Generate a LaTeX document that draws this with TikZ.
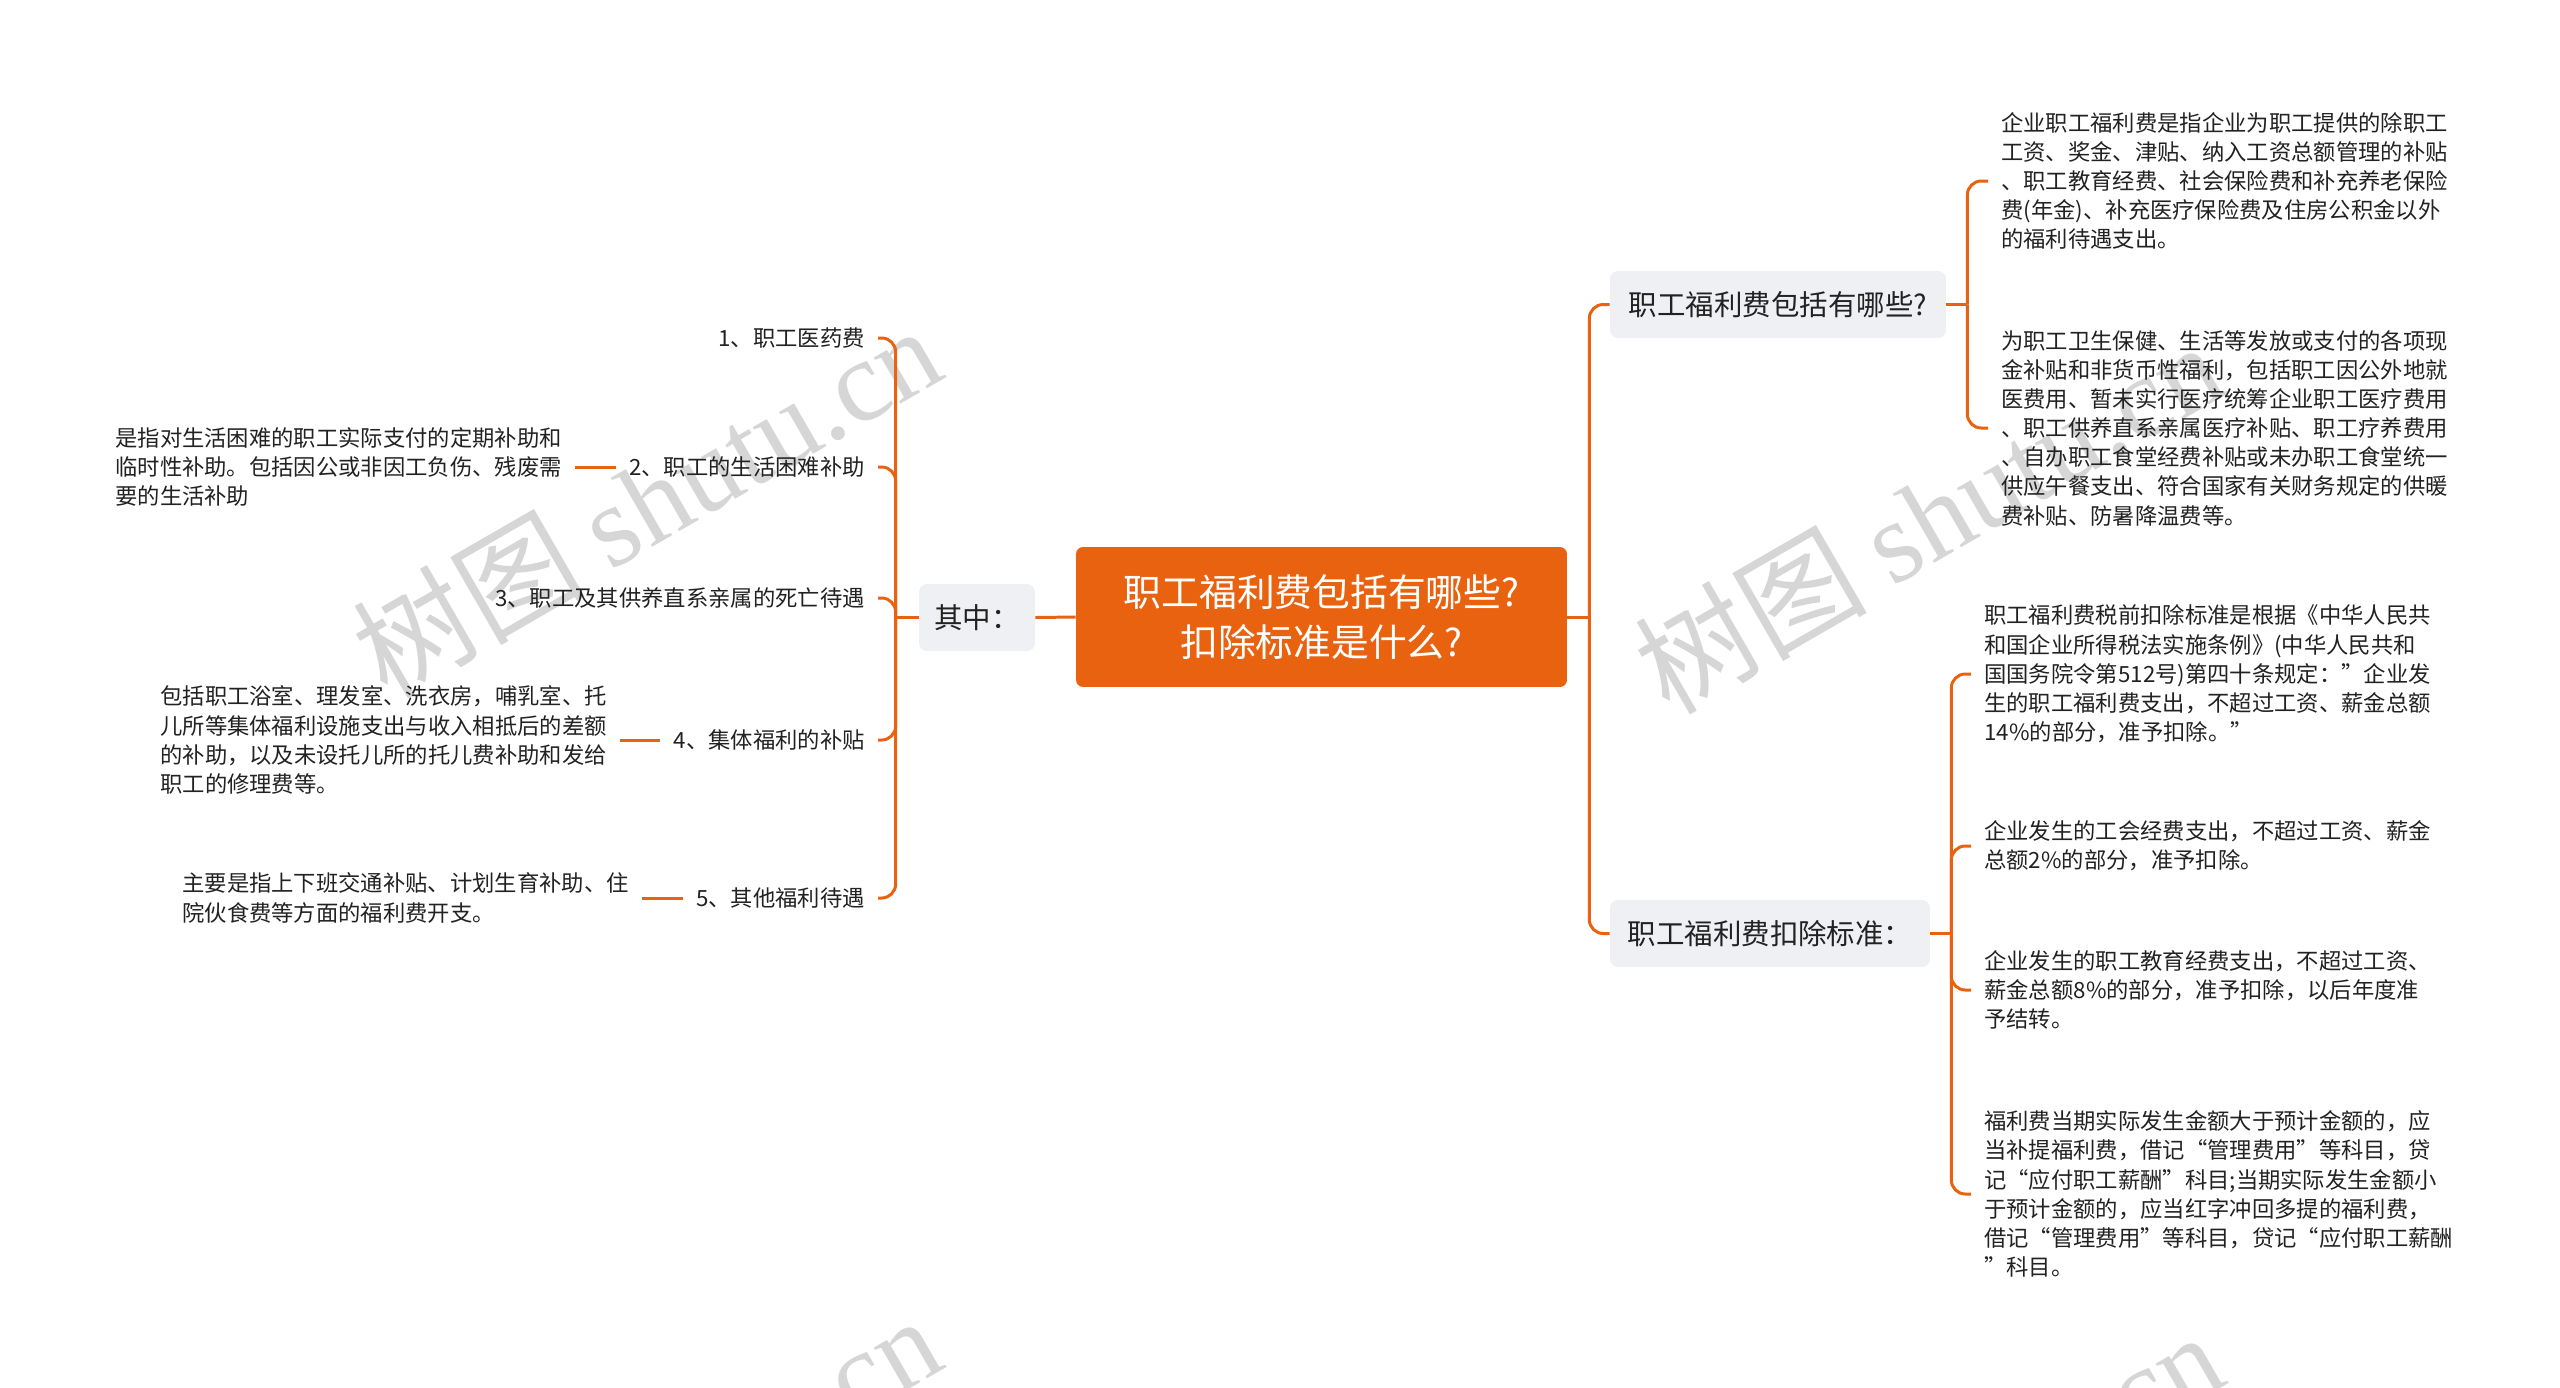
\documentclass[tikz,border=0pt]{standalone}
\usepackage{fontspec}
\setmainfont{Noto Sans CJK SC}
\newfontfamily\wmlatinfont{Liberation Serif}
\usetikzlibrary{positioning}
\definecolor{orng}{HTML}{E8620F}
\definecolor{graybg}{HTML}{EEF0F3}
\definecolor{txtc}{HTML}{222222}
\definecolor{wmc}{HTML}{D6D6D6}
\newcommand\ftS{\fontsize{12.7pt}{16.6pt}\selectfont}
\newcommand\ftM{\fontsize{16.2pt}{20pt}\selectfont}
\newcommand\ftL{\fontsize{21.5pt}{28.7pt}\selectfont}
\newcommand\ftW{\fontsize{66pt}{66pt}\selectfont}
\tikzset{
  conn/.style={draw=orng, line width=1.7pt, rounded corners=0.28cm},
  txtnode/.style={text=txtc, font=\ftS, inner xsep=0.26cm, inner ysep=0pt},
  descl/.style={txtnode, align=left},
  lblr/.style={txtnode, anchor=east},
  topicbox/.style={fill=graybg, rounded corners=0.16cm, text=txtc, font=\ftM, minimum height=1.34cm, inner xsep=0pt},
  rootbox/.style={fill=orng, rounded corners=0.14cm, text=white, font=\ftL, align=center, minimum width=9.82cm, minimum height=2.8cm},
  wmark/.style={text=wmc, font=\ftW, rotate=30}
}
\begin{document}
\begin{tikzpicture}[x=0.02cm,y=-0.02cm]
\fill[white] (0,0) rectangle (2560,1387);
\useasboundingbox (0,0) rectangle (2560,1387);
\begin{scope}
\clip (0,0) rectangle (2560,1387);
\node[wmark] (wm1) at (646,500) {树图 {\wmlatinfont shutu.cn}};
\node[wmark] (wm2) at (1928,516) {树图 {\wmlatinfont shutu.cn}};
\node[wmark] (wm3) at (646,1490) {树图 {\wmlatinfont shutu.cn}};
\node[wmark] (wm4) at (1928,1506) {树图 {\wmlatinfont shutu.cn}};
\end{scope}

% main nodes
\node[rootbox] (root) at (1321.5,617) {职工福利费包括有哪些?\\扣除标准是什么?};
\node[topicbox, minimum width=2.32cm] (qz) at (977,617.5) {其中：};
\node[topicbox, minimum width=6.72cm] (n1) at (1778,304.5) {职工福利费包括有哪些?};
\node[topicbox, minimum width=6.4cm] (n2) at (1770,933.5) {职工福利费扣除标准：};

% right texts
\node[descl, anchor=west] (t1) at (1988,181) {企业职工福利费是指企业为职工提供的除职工\\
工资、奖金、津贴、纳入工资总额管理的补贴\\
、职工教育经费、社会保险费和补充养老保险\\
费(年金)、补充医疗保险费及住房公积金以外\\
的福利待遇支出。};
\node[descl, anchor=west] (t2) at (1988,428) {为职工卫生保健、生活等发放或支付的各项现\\
金补贴和非货币性福利，包括职工因公外地就\\
医费用、暂未实行医疗统筹企业职工医疗费用\\
、职工供养直系亲属医疗补贴、职工疗养费用\\
、自办职工食堂经费补贴或未办职工食堂统一\\
供应午餐支出、符合国家有关财务规定的供暖\\
费补贴、防暑降温费等。};
\node[descl, anchor=west] (ra) at (1971,674) {职工福利费税前扣除标准是根据《中华人民共\\
和国企业所得税法实施条例》(中华人民共和\\
国国务院令第512号)第四十条规定：”企业发\\
生的职工福利费支出，不超过工资、薪金总额\\
14\%的部分，准予扣除。”};
\node[descl, anchor=west] (rb) at (1971,846) {企业发生的工会经费支出，不超过工资、薪金\\
总额2\%的部分，准予扣除。};
\node[descl, anchor=west] (rc) at (1971,990) {企业发生的职工教育经费支出，不超过工资、\\
薪金总额8\%的部分，准予扣除，以后年度准\\
予结转。};
\node[descl, anchor=west] (rd) at (1971,1194) {福利费当期实际发生金额大于预计金额的，应\\
当补提福利费，借记“管理费用”等科目，贷\\
记“应付职工薪酬”科目;当期实际发生金额小\\
于预计金额的，应当红字冲回多提的福利费，\\
借记“管理费用”等科目，贷记“应付职工薪酬\\
”科目。};

% left labels
\node[lblr] (l1) at (878,338) {1、职工医药费};
\node[lblr] (l2) at (878,467) {2、职工的生活困难补助};
\node[lblr] (l3) at (878,598) {3、职工及其供养直系亲属的死亡待遇};
\node[lblr] (l4) at (878,740) {4、集体福利的补贴};
\node[lblr] (l5) at (878,898) {5、其他福利待遇};

% left descriptions
\node[descl, anchor=east] (d2) at (575,467) {是指对生活困难的职工实际支付的定期补助和\\
临时性补助。包括因公或非因工负伤、残废需\\
要的生活补助};
\node[descl, anchor=east] (d4) at (620,740) {包括职工浴室、理发室、洗衣房，哺乳室、托\\
儿所等集体福利设施支出与收入相抵后的差额\\
的补助，以及未设托儿所的托儿费补助和发给\\
职工的修理费等。};
\node[descl, anchor=east] (d5) at (642,898) {主要是指上下班交通补贴、计划生育补助、住\\
院伙食费等方面的福利费开支。};

% connectors
\draw[conn] (root.west) -- (qz.east);
\draw[conn] (qz.west) -- ++(-23,0) coordinate (sL);
\foreach \n in {l1,l2,l3,l4,l5} \draw[conn] (sL) |- (\n.east);
\draw[conn] (l2.west) -- (d2.east);
\draw[conn] (l4.west) -- (d4.east);
\draw[conn] (l5.west) -- (d5.east);

\draw[conn] (root.east) -- ++(22,0) coordinate (sR);
\draw[conn] (sR) |- (n1.west);
\draw[conn] (sR) |- (n2.west);

\draw[conn] (n1.east) -- ++(21,0) coordinate (s1);
\draw[conn] (s1) |- (t1.west);
\draw[conn] (s1) |- (t2.west);

\draw[conn] (n2.east) -- ++(21,0) coordinate (s2);
\foreach \n in {ra,rb,rc,rd} \draw[conn] (s2) |- (\n.west);
\end{tikzpicture}
\end{document}
